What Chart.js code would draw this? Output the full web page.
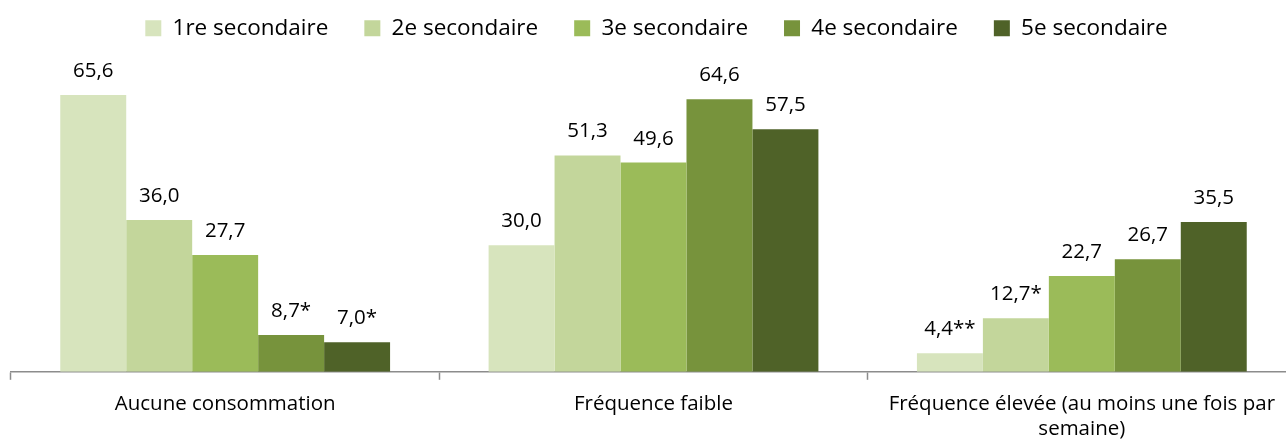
<!DOCTYPE html>
<html lang="fr">
<head>
<meta charset="UTF-8">
<title>Consommation par niveau scolaire</title>
<script src="https://cdn.jsdelivr.net/npm/chart.js"></script>
<style>
    body { margin: 0; background: #fff; overflow: hidden; }
    #wrap { width: 1310px; height: 453px; }
</style>
</head>
<body>
<div id="wrap"><canvas id="graphique"></canvas></div>
<script>
// categories (axe x)
const categories = [
    'Aucune consommation',
    'Fréquence faible',
    ['Fréquence élevée (au moins une fois par', 'semaine)']
];
const niveaux = ['1re secondaire', '2e secondaire', '3e secondaire', '4e secondaire', '5e secondaire'];

// valeurs par niveau (%)
const sec1 = [65.6, 30.0, 4.4];
const sec2 = [36.0, 51.3, 12.7];
const sec3 = [27.7, 49.6, 22.7];
const sec4 = [8.7, 64.6, 26.7];
const sec5 = [7.0, 57.5, 35.5];

// astérisques (précision des estimations)
const notes1 = ['', '', '**'];
const notes2 = ['', '', '*'];
const notes3 = ['', '', ''];
const notes4 = ['*', '', ''];
const notes5 = ['*', '', ''];

const couleurs = ['#D7E4BD', '#C3D69B', '#9BBB59', '#77933C', '#4F6228'];

const series = [sec1, sec2, sec3, sec4, sec5];
const notes = [notes1, notes2, notes3, notes4, notes5];

const police = "'Open Sans', sans-serif";

// etiquettes au-dessus des barres
const etiquettes = {
    id: 'etiquettes',
    afterDatasetsDraw(chart) {
        const ctx = chart.ctx;
        ctx.save();
        ctx.font = '20.5px ' + police;
        ctx.fillStyle = '#000';
        ctx.textAlign = 'center';
        ctx.textBaseline = 'alphabetic';
        chart.data.datasets.forEach((ds, i) => {
            chart.getDatasetMeta(i).data.forEach((bar, j) => {
                const txt = ds.data[j].toFixed(1).replace('.', ',') + notes[i][j];
                ctx.fillText(txt, bar.x, bar.y - 18);
            });
        });
        ctx.restore();
    }
};

// remonter la legende et la decaler un peu a droite
const decalage = {
    id: 'decalage',
    afterLayout(chart) {
        const lg = chart.legend;
        lg.top -= 19;
        lg.bottom -= 19;
        lg.left += 3;
        lg.right += 3;
    }
};

Chart.defaults.font.family = police;
Chart.defaults.color = '#000';

new Chart(document.getElementById('graphique'), {
    type: 'bar',
    data: {
        labels: categories,
        datasets: series.map((s, i) => ({
            label: niveaux[i],
            data: s,
            backgroundColor: couleurs[i],
            borderWidth: 0,
            barPercentage: 1,
            categoryPercentage: 0.77
        }))
    },
    options: {
        responsive: true,
        maintainAspectRatio: false,
        animation: false,
        layout: { padding: { top: 0, left: 11, right: 14, bottom: 0 } },
        plugins: {
            legend: {
                position: 'top',
                labels: {
                    boxWidth: 16,
                    boxHeight: 16,
                    padding: 36,
                    font: { size: 22.5 }
                }
            },
            tooltip: { enabled: false }
        },
        scales: {
            x: {
                grid: {
                    offset: true,
                    drawOnChartArea: false,
                    tickLength: 8,
                    tickWidth: 1.5,
                    color: '#8c8c8c'
                },
                border: { color: '#8c8c8c', width: 1.5 },
                ticks: { padding: 12, font: { size: 20.5 }, maxRotation: 0, autoSkip: false }
            },
            y: {
                display: false,
                min: 0,
                max: 71.9
            }
        }
    },
    plugins: [etiquettes, decalage]
});
</script>
</body>
</html>
